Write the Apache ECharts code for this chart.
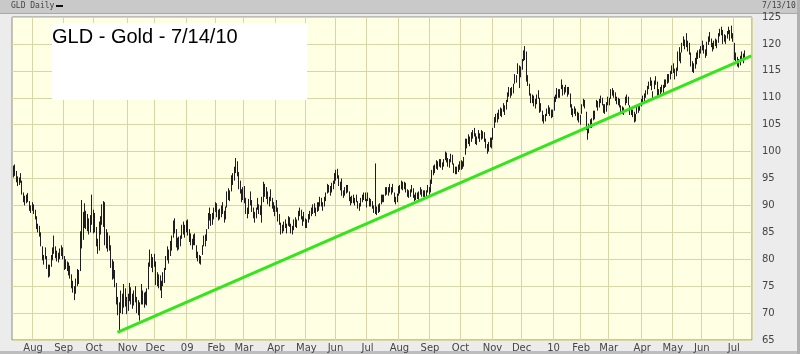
<!DOCTYPE html>
<html>
<head>
<meta charset="utf-8">
<title>GLD Daily</title>
<script src="https://cdn.jsdelivr.net/npm/echarts@6/dist/echarts.min.js"></script>
<style>
  html, body { margin: 0; padding: 0; background: #ececec; }
  #main { width: 800px; height: 354px; }
</style>
</head>
<body>
<div id="main"></div>
<script>
// months shown on the chart and how many trading days each one has
var monthLabels = ['', 'Aug', 'Sep', 'Oct', 'Nov', 'Dec', '09', 'Feb', 'Mar', 'Apr', 'May', 'Jun', 'Jul',
  'Aug', 'Sep', 'Oct', 'Nov', 'Dec', '10', 'Feb', 'Mar', 'Apr', 'May', 'Jun', 'Jul'];
var monthDays = [14, 21, 21, 23, 19, 22, 20, 19, 22, 21, 20, 22, 22, 21, 21, 22, 20, 22, 19, 19, 23, 21, 20, 22, 8];
var padDays = 5; // empty slots after the last bar

// daily lows / highs, one line per month
var lows = [
  95.2,95.5,94.3,93.6,93.8,94.2,92.0,90.6,90.0,90.4,90.6,89.0,88.6,89.0,
  88.4,87.4,85.6,85.0,84.2,82.4,79.8,79.0,80.0,78.2,76.6,76.8,78.6,79.8,81.0,80.2,79.6,79.4,80.0,80.6,80.0,
  78.0,78.2,77.8,77.0,76.4,74.6,73.8,72.4,73.6,75.0,75.4,77.8,82.0,83.6,85.8,85.6,85.2,84.6,85.0,86.4,84.8,
  85.0,82.4,81.0,81.6,84.6,86.4,86.0,82.6,82.0,81.4,81.6,78.4,76.2,76.4,74.8,71.6,69.6,66.8,70.0,69.8,71.0,71.2,69.8,
  70.4,72.2,71.6,70.8,71.4,72.0,70.0,69.6,68.6,71.6,71.6,71.0,71.6,71.4,74.4,78.6,78.4,77.6,78.6,
  75.2,75.0,74.6,74.2,72.8,75.0,75.6,78.0,79.8,79.2,80.6,81.6,84.0,84.8,82.2,81.6,81.8,82.4,83.8,84.6,84.0,85.0,
  84.4,83.2,82.6,81.8,82.6,82.6,80.2,79.6,79.2,79.0,80.8,82.4,82.4,83.4,85.6,87.2,86.2,86.4,87.4,88.8,
  87.8,87.2,87.4,87.8,88.4,86.8,87.4,89.6,91.0,90.8,92.6,93.8,94.6,96.0,95.4,93.0,92.2,90.6,91.0,
  90.4,88.4,87.6,88.4,90.0,88.8,87.6,86.8,87.6,89.2,88.4,88.2,86.8,90.6,91.6,91.2,90.2,89.8,90.8,89.4,88.8,88.0,
  88.8,87.0,86.4,84.6,84.8,85.2,85.8,84.8,86.2,86.0,84.8,84.6,85.4,86.0,85.8,87.2,88.0,87.4,86.2,87.0,85.8,
  85.8,86.8,87.4,88.0,88.4,88.6,88.0,88.8,89.0,89.8,89.8,89.0,89.8,90.8,92.2,92.4,91.8,92.4,93.0,94.0,
  94.6,95.0,93.6,92.8,91.8,91.4,91.8,92.2,92.4,90.8,90.0,90.4,90.4,90.0,90.6,89.4,89.0,89.8,90.6,91.0,90.8,89.6,
  90.8,89.8,89.8,89.4,88.6,88.4,88.2,88.6,88.8,90.2,90.6,90.6,91.8,92.0,91.8,92.4,92.0,92.4,90.6,90.2,90.6,91.8,
  92.2,93.0,92.8,93.0,92.4,91.6,91.4,91.6,92.4,91.4,90.8,91.0,91.2,91.0,92.0,91.6,91.6,91.4,91.6,92.4,92.0,
  92.4,94.0,95.6,96.0,96.8,96.6,97.2,97.0,96.6,97.2,98.4,98.0,97.2,97.0,98.0,97.6,96.0,95.8,95.8,96.2,96.6,
  96.6,96.8,97.2,99.4,100.6,101.4,101.0,101.8,102.4,102.8,101.4,101.2,102.4,101.8,102.2,102.4,101.8,100.6,99.6,100.0,100.8,100.6,
  102.2,104.4,105.4,105.4,106.0,106.6,106.4,107.4,106.8,107.8,109.2,110.2,110.0,110.4,110.8,112.6,112.8,114.4,111.8,113.8,
  115.2,116.8,117.0,113.0,112.2,110.4,109.0,109.0,108.4,108.0,108.8,109.8,107.2,107.4,105.6,105.2,105.6,106.6,107.0,106.6,106.2,106.4,
  107.6,109.2,109.8,110.0,110.0,111.6,110.4,110.6,111.0,110.2,110.6,108.2,106.8,106.4,107.0,106.6,105.8,105.4,105.0,
  107.0,108.4,108.0,104.0,102.2,103.4,104.4,104.4,105.8,106.0,108.2,107.6,108.2,109.0,108.6,107.2,107.0,107.4,108.6,
  108.6,109.8,110.4,110.0,109.4,108.8,108.6,108.2,107.0,107.0,106.8,108.6,109.0,108.6,106.8,106.8,106.4,105.4,105.6,107.0,107.2,107.6,108.4,
  109.0,109.4,110.0,110.6,111.6,112.2,111.4,109.8,111.6,112.4,110.2,110.0,110.6,111.0,110.8,111.8,112.0,112.6,112.8,113.4,114.4,
  114.6,113.4,114.0,115.0,116.8,116.4,118.4,119.6,119.0,119.4,118.6,118.0,115.8,114.8,114.6,115.4,116.2,117.2,117.4,118.2,
  118.8,118.2,117.4,117.8,119.8,120.4,119.4,118.6,119.0,119.6,119.2,120.2,121.4,121.6,120.0,120.4,120.0,121.0,121.8,120.6,121.0,120.4,
  117.0,116.8,115.8,115.6,116.0,117.0,116.4,117.0
];
var highs = [
  97.4,97.6,96.4,95.4,95.2,96.0,94.6,92.4,91.8,92.0,92.3,90.8,90.0,90.6,
  90.2,89.2,88.0,86.6,86.2,85.0,82.4,80.8,82.2,80.6,79.0,79.0,80.8,82.2,84.4,82.4,81.6,81.2,82.0,82.6,82.2,
  80.6,80.0,79.6,79.4,78.8,77.2,76.0,75.0,76.4,78.2,78.0,85.2,91.0,88.8,90.4,89.0,88.4,87.6,88.2,92.0,89.2,
  88.6,86.0,83.8,87.0,88.0,90.2,90.8,90.6,85.6,85.0,84.4,82.6,80.0,79.6,78.0,75.6,73.0,72.0,74.2,73.6,75.4,74.6,73.0,
  73.6,75.6,74.8,73.6,74.2,75.0,73.0,72.4,72.0,75.4,74.2,73.8,74.0,74.6,79.4,81.8,81.0,80.4,81.0,
  79.6,77.6,77.2,77.0,76.0,77.6,78.4,80.6,82.4,81.8,83.4,84.4,87.2,87.6,85.6,84.0,84.2,84.4,86.4,87.0,86.4,87.2,
  87.4,85.6,84.8,83.8,84.6,84.8,82.6,81.4,80.8,80.6,82.6,84.4,84.6,85.6,88.6,89.6,88.4,88.6,89.6,90.6,
  90.4,89.2,89.4,90.0,90.6,89.0,89.8,92.6,93.2,92.8,95.6,96.0,97.2,98.8,98.2,96.2,94.6,93.0,93.4,
  93.6,91.4,89.6,91.2,92.6,91.0,89.6,88.8,89.6,91.4,90.2,90.0,91.6,94.4,94.0,93.4,92.6,91.6,93.0,91.4,90.6,90.0,
  91.0,89.6,88.4,86.8,86.4,87.0,87.4,86.6,88.0,87.8,86.6,86.2,87.4,87.8,87.4,89.0,89.6,89.2,88.0,88.8,87.6,
  87.4,88.4,89.0,89.6,90.2,90.4,89.6,90.6,90.6,91.6,91.4,90.6,91.6,92.4,94.0,93.8,93.6,94.2,94.6,96.0,
  96.6,96.8,95.6,94.4,95.0,92.8,93.4,93.8,93.8,92.6,91.6,91.8,92.0,91.4,92.0,90.8,90.4,91.4,92.0,92.4,92.4,91.2,
  92.4,91.4,91.2,90.8,90.0,97.8,89.8,90.2,90.4,92.0,92.0,92.0,93.4,93.4,93.4,94.0,93.4,94.0,92.4,91.6,92.2,93.6,
  93.8,94.6,94.4,94.4,94.2,93.0,92.8,93.0,93.8,93.2,92.0,92.4,92.4,92.6,93.4,93.0,92.8,92.8,92.8,93.8,93.4,
  94.8,96.6,97.4,97.6,98.4,98.2,98.6,98.6,98.0,98.6,100.0,99.8,98.8,98.6,99.6,99.4,97.8,97.2,97.2,97.6,98.2,
  98.4,98.2,99.0,102.4,102.4,103.2,102.8,103.6,104.0,104.4,103.4,102.8,104.0,103.4,104.0,103.8,103.6,102.4,101.4,101.8,102.6,102.6,
  104.4,106.4,107.0,107.2,107.8,108.2,108.0,109.0,108.6,109.6,111.0,112.0,111.8,112.0,112.6,114.4,114.2,116.4,116.0,115.8,
  117.2,118.8,119.6,118.6,114.2,112.6,110.8,110.6,110.4,109.8,110.6,111.4,110.0,109.0,107.6,106.8,107.0,108.0,108.6,108.2,107.8,107.8,
  110.2,110.6,111.8,111.6,111.6,113.4,112.4,112.0,112.4,112.0,112.0,110.8,108.8,108.0,108.4,108.0,107.4,107.2,106.8,
  108.8,109.8,109.6,107.4,104.6,105.2,106.0,106.2,107.6,107.6,109.6,109.4,109.8,110.4,110.0,108.8,108.8,109.2,110.2,
  110.0,111.6,111.8,111.4,111.0,110.2,110.0,109.8,108.6,108.4,108.2,110.2,110.6,110.2,108.6,108.2,107.8,107.4,107.0,108.4,108.6,109.0,109.8,
  110.4,110.8,111.4,112.2,113.0,113.8,113.2,111.2,113.2,114.0,113.0,111.6,112.0,112.4,112.4,113.4,113.4,114.4,114.4,115.0,116.0,
  116.4,115.4,115.6,118.6,119.4,118.4,120.2,121.4,120.8,122.0,120.6,120.2,118.4,116.8,116.4,117.4,118.4,118.8,119.0,119.6,
  120.6,119.8,119.0,120.4,121.4,122.2,121.0,120.2,120.6,121.0,120.8,122.0,122.8,123.2,122.6,121.8,121.6,122.4,123.2,122.6,123.4,122.0,
  120.2,118.4,117.6,117.2,117.8,118.6,118.2,118.8
];

// green support line drawn on the chart: [day index, price]
var trendStart = [72, 66.4];
var trendEnd = [508, 117.8];

var yTicks = { min: 65, max: 125, step: 5 };

// build categories, remember where each month starts
var categories = [];
var monthStart = {};
monthDays.forEach(function(n, m) {
  for (var d = 0; d < n; d++) {
    if (d === 0 && m > 0) monthStart[categories.length] = monthLabels[m];
    categories.push(m + '-' + d);
  }
});
for (var p = 0; p < padDays; p++) categories.push('pad-' + p);

var isMonthStart = function(index) { return monthStart[index] !== undefined; };

var barData = lows.map(function(l, i) { return [i, l, highs[i]]; });

var gridColor = '#d8d5a6';
var chart = echarts.init(document.getElementById('main'));
var option = {
  backgroundColor: '#ececec',
  animation: false,
  grid: {
    left: 12, right: 48, top: 17, bottom: 14,
    show: true, backgroundColor: '#ffffe3', borderColor: '#8c8c8c', borderWidth: 1
  },
  xAxis: {
    type: 'category',
    data: categories,
    boundaryGap: true,
    axisLine: { show: false },
    axisTick: { show: false },
    splitLine: { show: true, interval: isMonthStart, lineStyle: { color: gridColor, width: 1 } },
    axisLabel: {
      interval: isMonthStart,
      margin: 3,
      color: '#444',
      fontSize: 10,
      fontFamily: 'DejaVu Sans',
      formatter: function(v, i) { return monthStart[i] || ''; }
    }
  },
  yAxis: {
    type: 'value',
    position: 'right',
    min: yTicks.min, max: yTicks.max, interval: yTicks.step,
    axisLine: { show: false },
    axisTick: { show: false },
    splitLine: { lineStyle: { color: gridColor, width: 1 } },
    axisLabel: { margin: 10, color: '#444', fontSize: 10, fontFamily: 'DejaVu Sans' }
  },
  series: [{
    type: 'custom',
    data: barData,
    z: 2,
    renderItem: function(params, api) {
      var lo = api.coord([api.value(0), api.value(1)]);
      var hi = api.coord([api.value(0), api.value(2)]);
      var x = Math.round(lo[0]) + 0.5;
      return {
        type: 'line',
        shape: { x1: x, y1: lo[1], x2: x, y2: hi[1] },
        style: { stroke: '#1e1e1e', lineWidth: 1 }
      };
    }
  }, {
    type: 'line',
    data: [trendStart, trendEnd],
    symbol: 'none',
    z: 5,
    lineStyle: { color: '#33e61c', width: 3 }
  }],
  graphic: [
    { type: 'rect', left: 0, top: 0, shape: { width: 800, height: 13 }, style: { fill: '#c9c9c9' } },
    { type: 'rect', left: 0, top: 13, shape: { width: 800, height: 1 }, style: { fill: '#a8a8a8' } },
    { type: 'text', left: 11, top: 2, style: { text: 'GLD Daily', fill: '#444', font: '8px "DejaVu Sans Mono"' } },
    { type: 'rect', left: 56, top: 5, shape: { width: 7, height: 2 }, style: { fill: '#111' } },
    { type: 'text', left: 762, top: 2, style: { text: '7/13/10', fill: '#444', font: '8px "DejaVu Sans Mono"' } },
    { type: 'rect', left: 52, top: 23, z: 10, shape: { width: 255, height: 77 }, style: { fill: '#ffffff' } },
    { type: 'text', left: 52, top: 27, z: 11, style: { text: 'GLD - Gold - 7/14/10', fill: '#000', font: '20px "Liberation Sans"' } },
    { type: 'rect', left: 0, top: 351, shape: { width: 800, height: 3 }, style: { fill: '#bdbdbd' } },
    { type: 'rect', left: 797, top: 0, shape: { width: 3, height: 354 }, style: { fill: '#b0b0b0' } }
  ]
};
chart.setOption(option);
</script>
</body>
</html>
